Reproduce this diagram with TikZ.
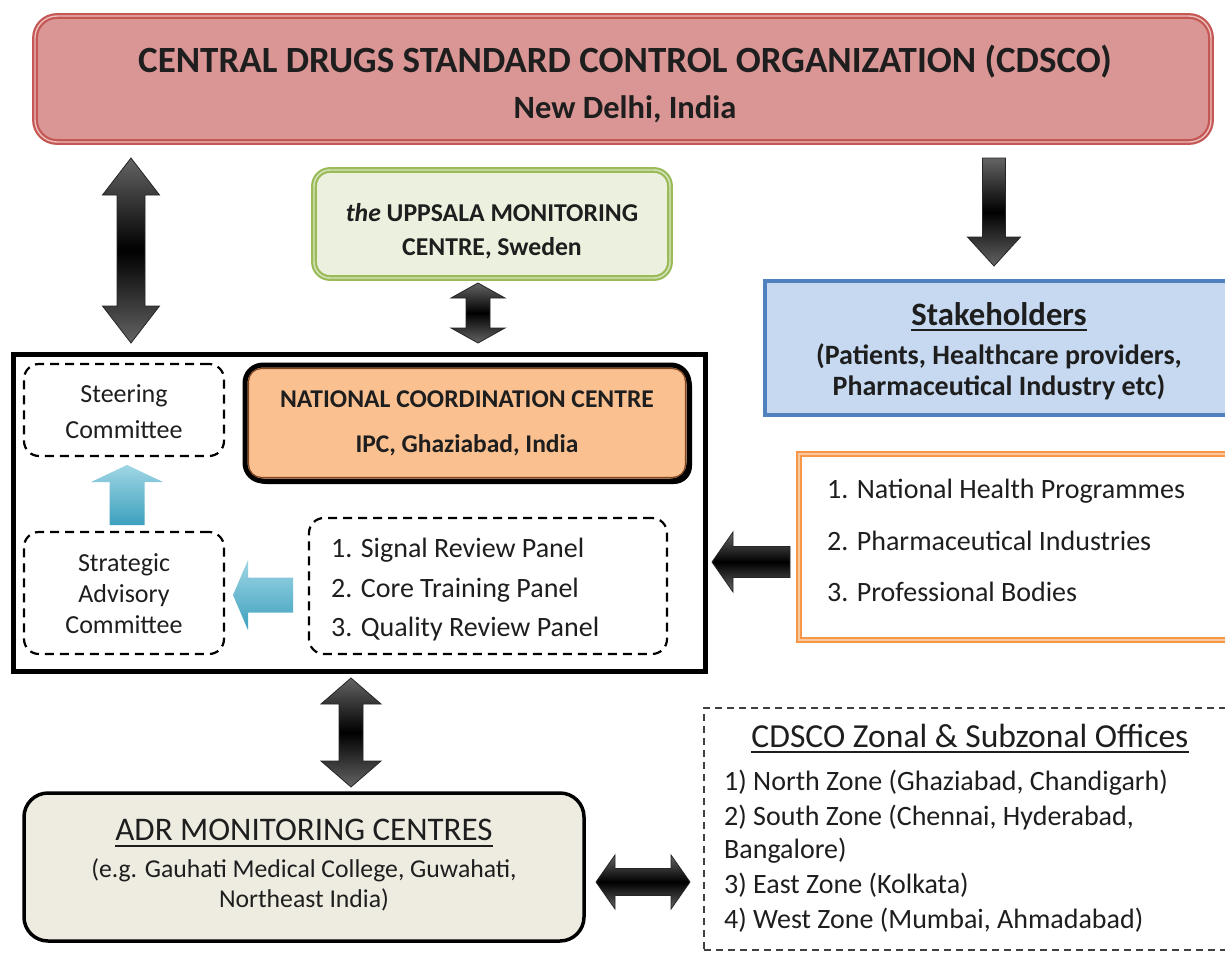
\documentclass[tikz,border=0pt]{standalone}
\usepackage{fontspec}
\setmainfont{Carlito}
\usetikzlibrary{calc,shadows}
\definecolor{cdfill}{RGB}{217,150,148}
\definecolor{cdline}{RGB}{196,86,83}
\definecolor{cdinner}{RGB}{236,190,188}
\definecolor{umfill}{RGB}{235,241,222}
\definecolor{umline}{RGB}{155,187,89}
\definecolor{uminner}{RGB}{215,228,189}
\definecolor{stfill}{RGB}{198,217,241}
\definecolor{stline}{RGB}{79,129,189}
\definecolor{orline}{RGB}{247,150,70}
\definecolor{orinner}{RGB}{250,200,160}
\definecolor{nccfill}{RGB}{250,192,144}
\definecolor{nccinner}{RGB}{130,70,30}
\definecolor{adrfill}{RGB}{238,236,225}
\definecolor{txtc}{RGB}{30,30,30}
\definecolor{agray}{RGB}{100,100,100}
\definecolor{cyanlt}{RGB}{160,214,228}
\definecolor{cyandk}{RGB}{60,160,190}
\newcommand\fs[1]{\fontsize{#1}{#1}\selectfont}
% vertical double arrow: top, bottom, half shaft, half head, head length, style
\newcommand\VDArrow[6]{\path[#6] let \p1=(#1), \p2=(#2) in
 (\x1,\y1) -- (\x1+#4pt,\y1-#5pt) -- (\x1+#3pt,\y1-#5pt) -- (\x1+#3pt,\y2+#5pt) -- (\x1+#4pt,\y2+#5pt) -- (\x1,\y2)
 -- (\x1-#4pt,\y2+#5pt) -- (\x1-#3pt,\y2+#5pt) -- (\x1-#3pt,\y1-#5pt) -- (\x1-#4pt,\y1-#5pt) -- cycle;}
% horizontal double arrow: left tip, right tip
\newcommand\HDArrow[6]{\path[#6] let \p1=(#1), \p2=(#2) in
 (\x1,\y1) -- (\x1+#5pt,\y1+#4pt) -- (\x1+#5pt,\y1+#3pt) -- (\x2-#5pt,\y1+#3pt) -- (\x2-#5pt,\y1+#4pt) -- (\x2,\y1)
 -- (\x2-#5pt,\y1-#4pt) -- (\x2-#5pt,\y1-#3pt) -- (\x1+#5pt,\y1-#3pt) -- (\x1+#5pt,\y1-#4pt) -- cycle;}
% vertical single arrow: tail, tip (works up or down)
\newcommand\VSArrow[6]{\path[#6] let \p1=(#1), \p2=(#2), \n1={sign(\y2-\y1)} in
 (\x1-#3pt,\y1) -- (\x1+#3pt,\y1) -- (\x1+#3pt,\y2-\n1*#5pt) -- (\x1+#4pt,\y2-\n1*#5pt) -- (\x1,\y2)
 -- (\x1-#4pt,\y2-\n1*#5pt) -- (\x1-#3pt,\y2-\n1*#5pt) -- cycle;}
% horizontal single arrow pointing left: tail (right), tip (left)
\newcommand\LSArrow[6]{\path[#6] let \p1=(#1), \p2=(#2) in
 (\x1,\y1+#3pt) -- (\x2+#5pt,\y1+#3pt) -- (\x2+#5pt,\y1+#4pt) -- (\x2,\y1) -- (\x2+#5pt,\y1-#4pt)
 -- (\x2+#5pt,\y1-#3pt) -- (\x1,\y1-#3pt) -- cycle;}
\begin{document}
\begin{tikzpicture}[x=1pt,y=-1pt,
  txt/.style={inner sep=0pt, anchor=base, text=txtc},
  txtl/.style={inner sep=0pt, anchor=base west, text=txtc},
  box/.style={inner sep=0pt, rectangle},
  dbox/.style={box, draw=black, line width=2.2pt, dash pattern=on 9pt off 6pt, rounded corners=15pt},
  ul/.style={line width=2.4pt, txtc},
  blkarrow/.style={top color=agray, bottom color=agray, middle color=black, draw=black!85, line width=0.8pt},
  cyanarrow/.style={top color=cyanlt, bottom color=cyandk, draw=none}
]
\useasboundingbox (0,0) rectangle (1225,953);
\fill[white] (0,0) rectangle (1225,953);

% ---------- boxes ----------
\node[box, draw=cdline, double=cdinner, double distance=1.4pt, line width=2.2pt, fill=cdfill,
      rounded corners=22pt, minimum width=1176pt, minimum height=126pt] (cdsco) at (623,79) {};
\node[box, draw=umline, double=uminner, double distance=1.4pt, line width=2.2pt, fill=umfill,
      rounded corners=16pt, minimum width=356pt, minimum height=108pt] (umc) at (492,224) {};
\node[box, draw=stline, line width=4pt, fill=stfill,
      minimum width=473pt, minimum height=134pt] (stake) at (1001.5,348) {};
\node[box, draw=orline, double=orinner, double distance=1.4pt, line width=2.2pt, fill=white,
      minimum width=439pt, minimum height=186pt] (progs) at (1018.5,547) {};
\node[box, draw=black, line width=5pt, minimum width=692pt, minimum height=317pt] (nccout) at (359,512.5) {};
\node[dbox, minimum width=200pt, minimum height=92pt] (steer) at (124,410) {};
\node[box, draw=black, line width=5pt, fill=nccfill, rounded corners=18pt,
      drop shadow={shadow xshift=3pt, shadow yshift=-3pt, fill=black, opacity=1},
      minimum width=444pt, minimum height=116pt] (ncc) at (467,423) {};
\draw[nccinner, line width=1.2pt, rounded corners=13pt] ($(ncc.north west)+(6,6)$) rectangle ($(ncc.south east)+(-6,-6)$);
\node[dbox, minimum width=200pt, minimum height=122pt] (strat) at (124,593) {};
\node[dbox, minimum width=358pt, minimum height=136pt] (panels) at (488,586) {};
\node[box, draw=black, line width=3.5pt, fill=adrfill, rounded corners=24pt,
      minimum width=560pt, minimum height=148pt] (adr) at (304,867) {};
\node[box, draw=black!75, line width=1.6pt, dash pattern=on 7pt off 5pt,
      minimum width=536pt, minimum height=242pt] (zonal) at (972,829) {};

% ---------- arrows ----------
\coordinate (la1) at (131,158); \coordinate (la2) at (131,343);
\VDArrow{la1}{la2}{14}{28.5}{37}{blkarrow}
\coordinate (ua1) at (478,283); \coordinate (ua2) at (478,343);
\VDArrow{ua1}{ua2}{12}{27}{15}{blkarrow}
\coordinate (da1) at (994,158); \coordinate (da2) at (994,266);
\VSArrow{da1}{da2}{11.5}{26.5}{29}{blkarrow}
\coordinate (ba1) at (351,678); \coordinate (ba2) at (351,787);
\VDArrow{ba1}{ba2}{12}{30}{26}{blkarrow}
\coordinate (ha1) at (596,882); \coordinate (ha2) at (690,882);
\HDArrow{ha1}{ha2}{13.5}{27}{19}{blkarrow}
\coordinate (pa1) at (790,562); \coordinate (pa2) at (712,562);
\LSArrow{pa1}{pa2}{15.5}{30}{21}{blkarrow}
\coordinate (ca1) at (127,525); \coordinate (ca2) at (127,465);
\VSArrow{ca1}{ca2}{17.5}{36}{17}{cyanarrow}
\coordinate (cb1) at (293,595); \coordinate (cb2) at (233,595);
\LSArrow{cb1}{cb2}{17.5}{35}{15}{cyanarrow}

% ---------- texts ----------
\node[txt, font=\bfseries\fs{37}] (t1) at (625,72) {CENTRAL DRUGS STANDARD CONTROL ORGANIZATION (CDSCO)};
\node[txt, font=\bfseries\fs{32.5}] (t2) at (625,118) {New Delhi, India};

\node[txt, font=\bfseries\fs{25.7}] (u1) at (492,221) {\textit{the} UPPSALA MONITORING};
\node[txt, font=\bfseries\fs{25.7}] (u2) at (492,255) {CENTRE, Sweden};

\node[txt, font=\bfseries\fs{32.7}] (s1) at (999,325) {Stakeholders};
\draw[ul] ($(s1.base west)+(0,5)$) -- ($(s1.base east)+(0,5)$);
\node[txt, font=\bfseries\fs{28}] (s2) at (999,364) {(Patients, Healthcare providers,};
\node[txt, font=\bfseries\fs{28}] (s3) at (999,395) {Pharmaceutical Industry etc)};

\node[txt, font=\fs{26}] (sc1) at (124,402) {Steering};
\node[txt, font=\fs{26}] (sc2) at (124,438) {Committee};

\node[txt, font=\bfseries\fs{25.6}] (n1) at (467,407) {NATIONAL COORDINATION CENTRE};
\node[txt, font=\bfseries\fs{25.5}] (n2) at (467,452) {IPC, Ghaziabad, India};

\node[txt, font=\fs{26}] (sa1) at (124,571) {Strategic};
\node[txt, font=\fs{26}] (sa2) at (124,602) {Advisory};
\node[txt, font=\fs{26}] (sa3) at (124,633) {Committee};

\node[txtl, font=\fs{28}] (p1) at (331,557) {1. Signal Review Panel};
\node[txtl, font=\fs{28}] (p2) at (331,597) {2. Core Training Panel};
\node[txtl, font=\fs{28}] (p3) at (331,636) {3. Quality Review Panel};

\node[txtl, font=\fs{28}] (o1) at (827,498) {1. National Health Programmes};
\node[txtl, font=\fs{28}] (o2) at (827,550) {2. Pharmaceutical Industries};
\node[txtl, font=\fs{28}] (o3) at (827,601) {3. Professional Bodies};

\node[txt, font=\fs{33}] (a1) at (304,840) {ADR MONITORING CENTRES};
\draw[ul] ($(a1.base west)+(0,6)$) -- ($(a1.base east)+(0,6)$);
\node[txt, font=\fs{25.7}] (a2) at (304,877) {(e.g. Gauhati Medical College, Guwahati,};
\node[txt, font=\fs{25.7}] (a3) at (304,907) {Northeast India)};

\node[txt, font=\fs{33.6}] (z0) at (970,747) {CDSCO Zonal \& Subzonal Offices};
\draw[ul] ($(z0.base west)+(0,5)$) -- ($(z0.base east)+(0,5)$);
\node[txtl, font=\fs{28}] (z1) at (724,790) {1) North Zone (Ghaziabad, Chandigarh)};
\node[txtl, font=\fs{28}] (z2) at (724,825) {2) South Zone (Chennai, Hyderabad,};
\node[txtl, font=\fs{28}] (z3) at (724,858) {Bangalore)};
\node[txtl, font=\fs{28}] (z4) at (724,893) {3) East Zone (Kolkata)};
\node[txtl, font=\fs{28}] (z5) at (724,928) {4) West Zone (Mumbai, Ahmadabad)};
\end{tikzpicture}
\end{document}
